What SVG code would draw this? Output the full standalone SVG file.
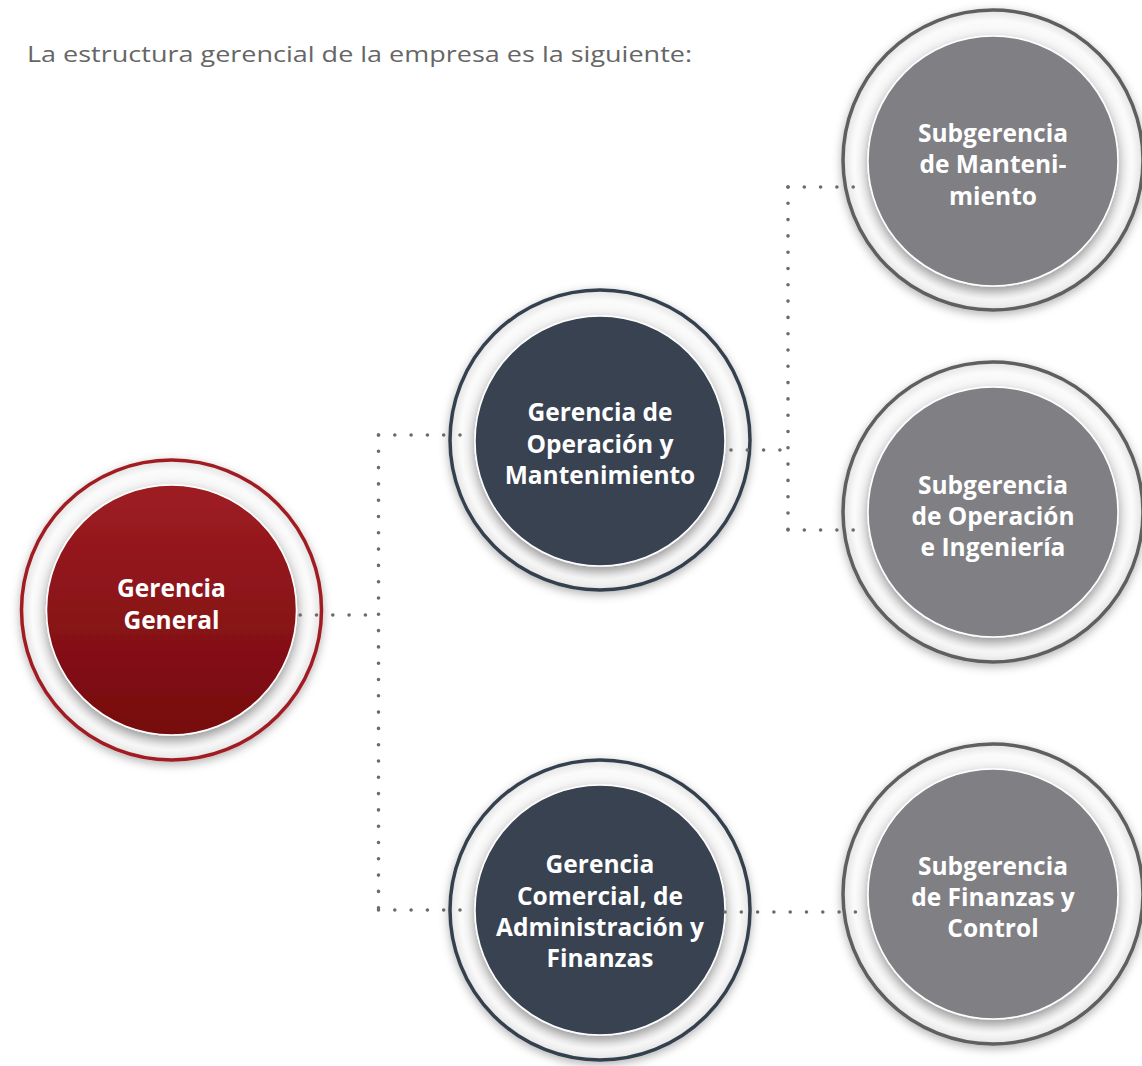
<svg xmlns="http://www.w3.org/2000/svg" width="1142" height="1066" viewBox="0 0 1142 1066">
<style>
.title{font-family:"Open Sans","Liberation Sans",sans-serif;font-size:21px;fill:#666;}
.lbl{font-family:"Open Sans","Liberation Sans",sans-serif;font-size:24.5px;font-weight:bold;fill:#fff;text-anchor:middle;}
.ring{fill:url(#ringGrad);stroke-width:3.5;filter:url(#outerShadow);}
.inner{stroke:#fff;stroke-width:1.5;filter:url(#innerShadow);}
.dots{fill:none;stroke:#6b6b6b;stroke-width:3.6;stroke-linecap:round;stroke-dasharray:0 16.3;}
</style>
<defs>
<radialGradient id="ringGrad" cx="0.5" cy="0.5" r="0.5">
<stop offset="0.8" stop-color="#f4f4f4"/>
<stop offset="0.93" stop-color="#fbfbfb"/>
<stop offset="1" stop-color="#e2e2e2"/>
</radialGradient>
<linearGradient id="redGrad" x1="0" y1="0" x2="0" y2="1">
<stop offset="0" stop-color="#9e1d23"/>
<stop offset="1" stop-color="#760a0e"/>
</linearGradient>
<filter id="outerShadow" x="-20%" y="-20%" width="140%" height="140%">
<feDropShadow dx="0" dy="3" stdDeviation="5" flood-color="#000" flood-opacity="0.3"/>
</filter>
<filter id="innerShadow" x="-20%" y="-20%" width="140%" height="140%">
<feDropShadow dx="0" dy="5" stdDeviation="6" flood-color="#000" flood-opacity="0.4"/>
</filter>
</defs>
<rect width="1142" height="1066" fill="#fff"/>
<text class="title" x="27" y="62" textLength="665" lengthAdjust="spacingAndGlyphs">La estructura gerencial de la empresa es la siguiente:</text>

<g id="n-gerencia-general">
<circle class="ring" cx="171.5" cy="610" r="150" stroke="#a01c24"/>
<circle class="inner" cx="171.5" cy="610" r="125" fill="url(#redGrad)"/>
<text class="lbl" x="171.5" y="597">Gerencia</text>
<text class="lbl" x="171.5" y="629">General</text>
</g>

<g id="n-gerencia-operacion">
<circle class="ring" cx="600" cy="440" r="150" stroke="#36404f"/>
<circle class="inner" cx="600" cy="441" r="125" fill="#374251"/>
<text class="lbl" x="600" y="421">Gerencia de</text>
<text class="lbl" x="600" y="453">Operación y</text>
<text class="lbl" x="600" y="484">Mantenimiento</text>
</g>

<g id="n-gerencia-comercial">
<circle class="ring" cx="600" cy="910" r="150" stroke="#36404f"/>
<circle class="inner" cx="600" cy="910" r="125" fill="#374251"/>
<text class="lbl" x="600" y="873">Gerencia</text>
<text class="lbl" x="600" y="905">Comercial, de</text>
<text class="lbl" x="600" y="936">Administración y</text>
<text class="lbl" x="600" y="967">Finanzas</text>
</g>

<g id="n-sub-mantenimiento">
<circle class="ring" cx="993" cy="160" r="150" stroke="#5f5f5f"/>
<circle class="inner" cx="993" cy="161" r="125" fill="#808084"/>
<text class="lbl" x="993" y="142">Subgerencia</text>
<text class="lbl" x="993" y="173">de Manteni-</text>
<text class="lbl" x="993" y="205">miento</text>
</g>

<g id="n-sub-operacion">
<circle class="ring" cx="993" cy="512" r="150" stroke="#5f5f5f"/>
<circle class="inner" cx="993" cy="512" r="125" fill="#808084"/>
<text class="lbl" x="993" y="494">Subgerencia</text>
<text class="lbl" x="993" y="525">de Operación</text>
<text class="lbl" x="993" y="556">e Ingeniería</text>
</g>

<g id="n-sub-finanzas">
<circle class="ring" cx="993" cy="894" r="150" stroke="#5f5f5f"/>
<circle class="inner" cx="993" cy="894" r="125" fill="#808084"/>
<text class="lbl" x="993" y="875">Subgerencia</text>
<text class="lbl" x="993" y="906">de Finanzas y</text>
<text class="lbl" x="993" y="937">Control</text>
</g>

<g id="connectors">
<path class="dots" d="M300.2 615 H378.5"/>
<path class="dots" d="M378.5 435 V910"/>
<path class="dots" d="M378.5 435 H462"/>
<path class="dots" d="M378.5 910 H462"/>
<path class="dots" d="M731 450 H788"/>
<path class="dots" d="M788 187 V530"/>
<path class="dots" d="M788 187 H857"/>
<path class="dots" d="M788 530 H855"/>
<path class="dots" d="M725 912 H867"/>
</g>
</svg>
